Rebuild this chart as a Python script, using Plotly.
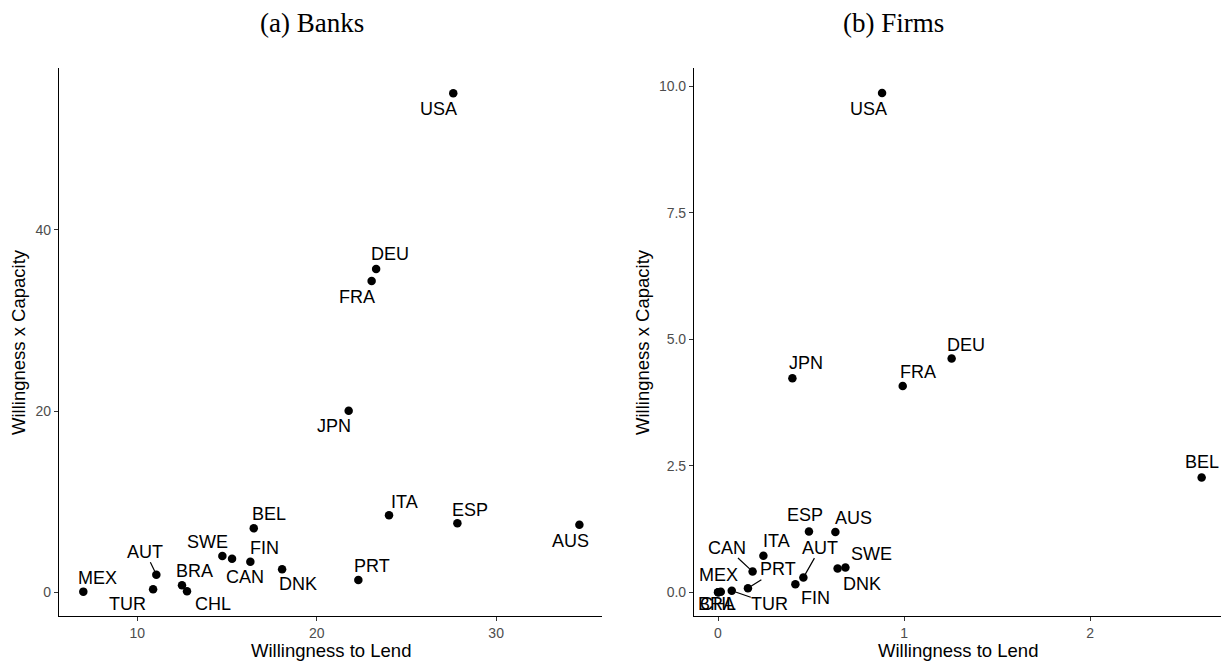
import plotly.graph_objects as go

# ---------------- data ----------------
bank_countries = ["USA", "DEU", "FRA", "JPN", "ITA", "ESP", "AUS", "PRT", "BEL",
                  "SWE", "CAN", "FIN", "DNK", "AUT", "BRA", "CHL", "TUR", "MEX"]
bank_willingness = [27.61, 23.31, 23.06, 21.78, 24.03, 27.84, 34.64, 22.32, 16.49,
                    14.74, 15.28, 16.30, 18.07, 11.06, 12.49, 12.77, 10.88, 6.99]
bank_capacity = [55.08, 35.68, 34.36, 20.04, 8.50, 7.62, 7.46, 1.36, 7.06,
                 4.00, 3.71, 3.38, 2.54, 1.94, 0.77, 0.11, 0.33, 0.07]

firm_countries = ["USA", "JPN", "FRA", "DEU", "BEL", "ESP", "AUS", "ITA", "CAN",
                  "PRT", "AUT", "FIN", "DNK", "SWE", "TUR", "MEX", "BRA", "CHL"]
firm_willingness = [0.882, 0.400, 0.993, 1.256, 2.600, 0.489, 0.631, 0.244, 0.186,
                    0.161, 0.459, 0.416, 0.643, 0.685, 0.074, 0.015, 0.002, 0.000]
firm_capacity = [9.87, 4.23, 4.08, 4.62, 2.27, 1.20, 1.19, 0.72, 0.41,
                 0.08, 0.29, 0.16, 0.47, 0.49, 0.03, 0.01, 0.00, 0.00]

x_title = "Willingness to Lend"
y_title = "Willingness x Capacity"
panel_titles = ["(a) Banks", "(b) Firms"]

# label placement (pixel offsets of label centre from point; segment flag)
bank_label_pos = {
    "USA": (-15, 16, False), "DEU": (14, -15, False), "FRA": (-15, 16, False),
    "JPN": (-15, 15, False), "ITA": (15, -13, False), "ESP": (13, -13, False),
    "AUS": (-9, 16, False), "PRT": (14, -14, False), "BEL": (15, -14, False),
    "SWE": (-15, -14, False), "CAN": (13, 18, False), "FIN": (14, -14, False),
    "DNK": (16, 15, False), "AUT": (-11, -23, True), "BRA": (13, -14, False),
    "CHL": (26, 13, False), "TUR": (-26, 15, False), "MEX": (14, -14, False),
}
firm_label_pos = {
    "USA": (-14, 16, False), "JPN": (14, -15, False), "FRA": (15, -14, False),
    "DEU": (14, -14, False), "BEL": (0, -15, False), "ESP": (-4, -17, False),
    "AUS": (18, -14, False), "ITA": (13, -15, False), "CAN": (-26, -24, True),
    "PRT": (30, -19, True), "AUT": (17, -30, True), "FIN": (20, 14, False),
    "DNK": (24, 15, False), "SWE": (26, -14, False), "TUR": (38, 13, True),
    "MEX": (-2, -17, False), "BRA": (-2, 12, False), "CHL": (0, 12, False),
}

W, H = 1221, 667
TOP, BOT = 68, 616
LEFT_DOM = (59, 602)
RIGHT_DOM = (694, 1221)


def px_x(p):
    return p / W


def px_y(p):
    return 1 - p / H


fig = go.Figure()

fig.add_trace(go.Scatter(x=bank_willingness, y=bank_capacity, mode="markers",
                         marker=dict(color="black", size=8.5),
                         xaxis="x", yaxis="y", showlegend=False, hoverinfo="skip"))
fig.add_trace(go.Scatter(x=firm_willingness, y=firm_capacity, mode="markers",
                         marker=dict(color="black", size=8.5),
                         xaxis="x2", yaxis="y2", showlegend=False, hoverinfo="skip"))

annotations = []
label_font = dict(family="Liberation Sans, Arial, sans-serif", size=18, color="black")


def add_labels(names, xs, ys, pos, xref, yref):
    for n, xv, yv in zip(names, xs, ys):
        dx, dy, seg = pos[n]
        annotations.append(dict(
            x=xv, y=yv, xref=xref, yref=yref, text=n, font=label_font,
            showarrow=True, ax=dx, ay=dy, axref="pixel", ayref="pixel",
            arrowhead=0, arrowwidth=1.2, standoff=4,
            arrowcolor="black" if seg else "rgba(0,0,0,0)",
            xanchor="center", yanchor="middle", borderpad=0,
        ))


add_labels(bank_countries, bank_willingness, bank_capacity, bank_label_pos, "x", "y")
add_labels(firm_countries, firm_willingness, firm_capacity, firm_label_pos, "x2", "y2")

title_font = dict(family="Liberation Serif, DejaVu Serif, serif", size=27, color="black")
annotations.append(dict(x=px_x(312), y=px_y(23), xref="paper", yref="paper",
                        text=panel_titles[0], showarrow=False, font=title_font,
                        xanchor="center", yanchor="middle"))
annotations.append(dict(x=px_x(893), y=px_y(23), xref="paper", yref="paper",
                        text=panel_titles[1], showarrow=False, font=title_font,
                        xanchor="center", yanchor="middle"))

axis_title_font = dict(family="Liberation Sans, Arial, sans-serif", size=18.5, color="black")
for cx in [(LEFT_DOM[0] + LEFT_DOM[1]) / 2, (RIGHT_DOM[0] + RIGHT_DOM[1]) / 2]:
    annotations.append(dict(x=px_x(cx), y=px_y(650), xref="paper", yref="paper",
                            text=x_title, showarrow=False, font=axis_title_font,
                            xanchor="center", yanchor="middle"))
for cx in [18, 642]:
    annotations.append(dict(x=px_x(cx), y=px_y((TOP + BOT) / 2), xref="paper", yref="paper",
                            text=y_title, showarrow=False, font=axis_title_font,
                            textangle=-90, xanchor="center", yanchor="middle"))

tick_font = dict(family="Liberation Sans, Arial, sans-serif", size=14, color="#4d4d4d")
axis_common = dict(showgrid=False, zeroline=False, showline=True, linecolor="black",
                   linewidth=1.1, ticks="outside", ticklen=4, tickcolor="#333333",
                   tickwidth=1, tickfont=tick_font, fixedrange=True)

fig.update_layout(
    width=W, height=H,
    margin=dict(l=0, r=0, t=0, b=0),
    paper_bgcolor="white", plot_bgcolor="white",
    xaxis=dict(domain=[px_x(LEFT_DOM[0]), px_x(LEFT_DOM[1])], range=[5.635, 35.90],
               tickvals=[10, 20, 30], anchor="y", **axis_common),
    yaxis=dict(domain=[px_y(BOT), px_y(TOP)], range=[-2.62, 57.87],
               tickvals=[0, 20, 40], anchor="x", **axis_common),
    xaxis2=dict(domain=[px_x(RIGHT_DOM[0]), px_x(RIGHT_DOM[1])], range=[-0.129, 2.704],
                tickvals=[0, 1, 2], anchor="y2", **axis_common),
    yaxis2=dict(domain=[px_y(BOT), px_y(TOP)], range=[-0.469, 10.366],
                tickvals=[0, 2.5, 5, 7.5, 10], tickformat=".1f", anchor="x2", **axis_common),
    annotations=annotations,
    showlegend=False,
)

fig.write_html("out.html", config={"displayModeBar": False},
               post_script="document.body.style.margin='0';document.body.style.overflow='hidden';")
